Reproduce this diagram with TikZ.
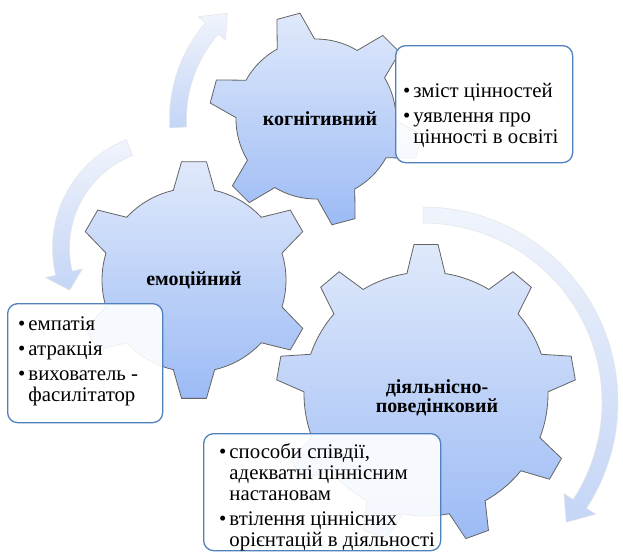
\documentclass[tikz,border=0pt]{standalone}
\usepackage{fontspec}
\setmainfont{Liberation Serif}
\newfontfamily\timesfont{Liberation Serif}
\definecolor{boxblue}{RGB}{79,129,189}
\definecolor{geartop}{RGB}{224,233,251}
\definecolor{gearbot}{RGB}{156,187,245}
\definecolor{gearline}{RGB}{100,100,100}
\definecolor{arrpale}{RGB}{240,244,252}
\definecolor{arrblue}{RGB}{196,213,246}
\newcommand{\boxfont}{\timesfont\fontsize{20.8}{21}\selectfont}
\newcommand{\labfont}{\timesfont\fontsize{20}{19}\selectfont\bfseries}
% gear: cx, cy, teeth, offset, inner r, outer r, base half-angle, tip half-angle
\newcommand{\drawgear}[8]{%
\begin{scope}[shift={(#1,#2)}]
\pgfmathsetmacro{\gstep}{360/#3}
\path[gearstyle] (#4-#7:#5)
  \foreach \k [evaluate=\k as \ga using #4+(\k-1)*\gstep,
               evaluate=\k as \gb using #4+(\k-1)*\gstep+#7,
               evaluate=\k as \gc using #4+\k*\gstep-#7] in {1,...,#3}
  { -- ({\ga-#8}:#6) -- ({\ga+#8}:#6) -- (\gb:#5) arc[start angle=\gb, end angle=\gc, radius=#5] }
  -- cycle;
\end{scope}}
% circular arrow: cx, cy, R, half width, head half width, tail angle, head base angle, tip angle
\newcommand{\circarrow}[8]{%
\begin{scope}[shift={(#1,#2)}]
\path[arrowstyle] (#6:{#3+#4}) arc[start angle=#6, end angle=#7, radius={#3+#4}]
  -- (#7:{#3+#5}) -- (#8:#3) -- (#7:{#3-#5}) -- (#7:{#3-#4})
  arc[start angle=#7, end angle=#6, radius={#3-#4}] -- cycle;
\end{scope}}
\begin{document}
\begin{tikzpicture}[x=1pt,y=1pt,
  gearstyle/.style={draw=gearline, line width=0.8pt, top color=geartop, bottom color=gearbot},
  arrowstyle/.style={draw=black!10, line width=0.5pt, top color=arrpale, bottom color=arrblue},
  textbox/.style={draw=boxblue, line width=1.3pt, rounded corners=10pt, fill=white, fill opacity=0.9, anchor=north west, inner sep=0pt},
  listtext/.style={anchor=base west, inner sep=0pt, font=\boxfont},
  gearlabel/.style={anchor=base, inner sep=0pt, font=\labfont}]
\useasboundingbox (0,0) rectangle (623,-552);
\fill[white] (0,0) rectangle (623,-552);
% arrows
\circarrow{316}{-119}{138}{8.5}{18}{183.5}{139}{130}
\circarrow{169}{-248}{108}{8.5}{19}{111.5}{193.5}{203}
\circarrow{423}{-402}{187}{8}{19}{90}{-33}{-40}
% gears
\drawgear{426}{-394}{9}{10}{122}{150}{9}{4.6}
\drawgear{194}{-280}{6}{30}{92}{119}{13}{6}
\drawgear{316}{-119}{6}{45}{80}{107}{14}{6.4}
% gear labels
\node[gearlabel] (kog) at (320,-125) {когнітивний};
\node[gearlabel] (emo) at (194,-285) {емоційний};
\node[gearlabel] (dia) at (437,-393) {\begin{tabular}[t]{@{}c@{}}діяльнісно-\\поведінковий\end{tabular}};
% text boxes
\node[textbox, minimum width=177pt, minimum height=117pt] (box1) at (395,-45) {};
\node[textbox, minimum width=155pt, minimum height=119pt] (box2) at (7,-303) {};
\node[textbox, minimum width=237pt, minimum height=117pt] (box3) at (203,-433) {};
\node[listtext] (list1) at (403,-97) {\begin{tabular}[t]{@{}l@{\hspace{3pt}}l@{}}•&зміст цінностей\\[4pt]•&уявлення про\\&цінності в освіті\end{tabular}};
\node[listtext] (list2) at (18,-330) {\begin{tabular}[t]{@{}l@{\hspace{3pt}}l@{}}•&емпатія\\[4pt]•&атракція\\[4pt]•&вихователь -\\&фасилітатор\end{tabular}};
\node[listtext] (list3) at (219,-458) {\begin{tabular}[t]{@{}l@{\hspace{3pt}}l@{}}•&способи співдії,\\&адекватні ціннісним\\&настановам\\[4pt]•&втілення ціннісних\\&орієнтацій в діяльності\end{tabular}};
\end{tikzpicture}
\end{document}
